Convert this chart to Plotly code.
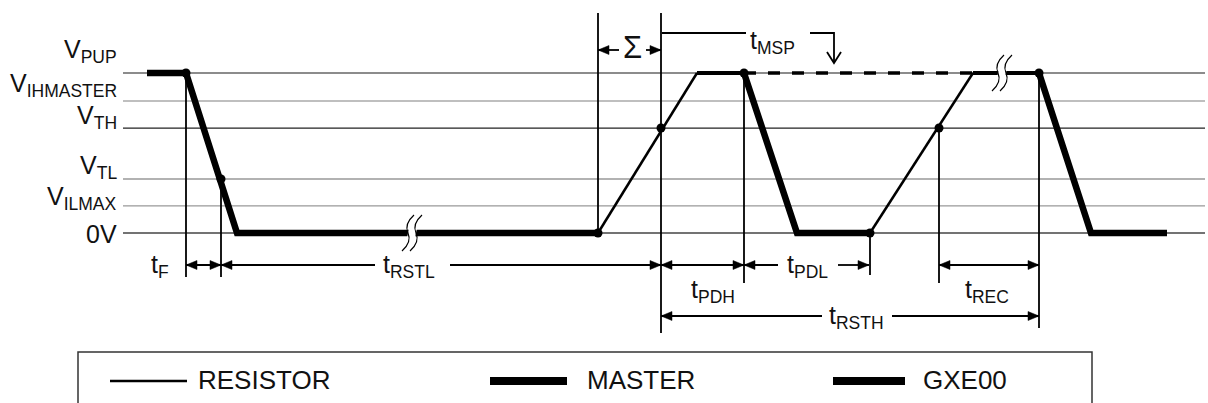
import plotly.graph_objects as go

# ---------------- data ----------------
# voltage levels (normalised: 0V = 0, VPUP = 1)
level_labels = ["V<sub>PUP</sub>", "V<sub>IHMASTER</sub>", "V<sub>TH</sub>",
                "V<sub>TL</sub>", "V<sub>ILMAX</sub>", "0V"]
level_values = [1.0, 0.825, 0.656, 0.3375, 0.169, 0.0]

# waveform segments (time units, level)
master1_t = [147, 186, 237, 598]
master1_v = [1, 1, 0, 0]
master2_t = [1039, 1091, 1167]
master2_v = [1, 0, 0]
gxe_t = [744, 797, 870]
gxe_v = [1, 0, 0]
res_rise1_t = [598, 697]
res_rise1_v = [0, 1]
res_rise2_t = [870, 973]
res_rise2_v = [0, 1]
high1_t = [697, 744]
high1_v = [1, 1]
high2_t = [973, 1039]
high2_v = [1, 1]
msp_t = [744, 973]
msp_v = [1, 1]

# event points (dots)
dot_t = [186, 221, 598, 661, 744, 870, 939, 1039]
dot_v = [1, 0.3375, 0, 0.656, 1, 0, 0.656, 1]

# timing labels
timing_labels = ["t<sub>F</sub>", "t<sub>RSTL</sub>", "t<sub>PDH</sub>", "t<sub>PDL</sub>",
                 "t<sub>REC</sub>", "t<sub>RSTH</sub>", "t<sub>MSP</sub>", "Σ"]
legend_names = ["RESISTOR", "MASTER", "GXE00"]

# ---------------- layout helpers ----------------
W, H = 1208, 403
ZERO_PX, SCALE = 233.0, 160.0


def yp(pix):
    """pixel row -> level units"""
    return (ZERO_PX - pix) / SCALE


FONT = "Liberation Sans, Arial, sans-serif"
fig = go.Figure()

# reference level lines
level_colors = ["#666", "#aaa", "#222", "#999", "#999", "#444"]
for v, c in zip(level_values, level_colors):
    fig.add_shape(type="line", x0=123, x1=1205, y0=v, y1=v,
                  line=dict(color=c, width=1.3), layer="below")

# level labels
label_off = [-22, -16, -11, -12, -8, 1]
for lab, v, off in zip(level_labels, level_values, label_off):
    fig.add_annotation(x=119, y=yp(ZERO_PX - v * SCALE + off), text=lab,
                       showarrow=False, xanchor="right", yanchor="middle",
                       font=dict(family=FONT, size=25, color="#111"))


def seg(t, v, width, dash=None):
    fig.add_trace(go.Scatter(x=t, y=v, mode="lines", showlegend=False,
                             line=dict(color="black", width=width, dash=dash),
                             hoverinfo="skip"))


seg(res_rise1_t, res_rise1_v, 2.5)
seg(res_rise2_t, res_rise2_v, 2.5)
seg(high1_t, high1_v, 4)
seg(high2_t, high2_v, 4)
seg(msp_t, msp_v, 3.5, dash="12px,12px")
seg(master1_t, master1_v, 6.5)
seg(gxe_t, gxe_v, 6.5)
seg(master2_t, master2_v, 6.5)

fig.add_trace(go.Scatter(x=dot_t, y=dot_v, mode="markers", showlegend=False,
                         marker=dict(color="black", size=9), hoverinfo="skip"))

# extension lines (time, from level, to pixel row)
ext = [(186, 1, 277), (221, 0.3375, 277), (598, yp(13), None), (661, yp(13), 333),
       (744, 1, 283), (870, 0, 275), (939, 0.656, 283), (1039, 1, 328)]
for t, y0, p1 in ext:
    y1 = 0 if p1 is None else yp(p1)
    fig.add_shape(type="line", x0=t, x1=t, y0=y0, y1=y1,
                  line=dict(color="black", width=1.8))


def head(xh, pix, s):
    # filled arrow head, tip at xh, pointing in direction s (+1 right, -1 left)
    fig.add_shape(type="path",
                  path=(f"M {xh},{yp(pix)} L {xh - s * 11},{yp(pix - 4.5)} "
                        f"L {xh - s * 11},{yp(pix + 4.5)} Z"),
                  fillcolor="black", line=dict(color="black", width=0.5))


def hline(x0, x1, pix):
    fig.add_shape(type="line", x0=x0, x1=x1, y0=yp(pix), y1=yp(pix),
                  line=dict(color="black", width=1.8))


def dim(x0, x1, pix, gap=None):
    if gap is None:
        hline(x0, x1, pix)
    else:
        hline(x0, gap[0], pix)
        hline(gap[1], x1, pix)
    head(x0, pix, -1)
    head(x1, pix, 1)


dim(186, 221, 265)
dim(221, 661, 265, (375, 450))
dim(598, 661, 50, (619, 646))
dim(661, 744, 265)
dim(744, 869, 265, (778, 838))
dim(939, 1039, 265)
dim(661, 1039, 316, (822, 892))

# tMSP hook
hline(662, 746, 33)
fig.add_shape(type="path",
              path=f"M 810,{yp(33)} L 834,{yp(33)} L 834,{yp(62)}",
              line=dict(color="black", width=1.8))
fig.add_shape(type="path",
              path=f"M 827,{yp(52)} L 834,{yp(63)} L 841,{yp(52)}",
              line=dict(color="black", width=1.8))

# timing labels
label_pos = [(160, 266), (409, 266), (713, 291), (807, 266),
             (987, 291), (856, 317), (772, 42), (632, 47)]
for lab, (x, p) in zip(timing_labels, label_pos):
    fig.add_annotation(x=x, y=yp(p), text=lab, showarrow=False,
                       xanchor="center", yanchor="middle",
                       font=dict(family=FONT, size=25 if lab != "Σ" else 31, color="#111"))


# break marks
def brk(cx, cpix):
    def P(dx, dy):
        return f"{cx + dx},{yp(cpix + dy)}"
    fig.add_shape(type="path",
                  path=f"M {P(1,-5)} L {P(9,-5)} L {P(7,5)} L {P(-1,5)} Z",
                  fillcolor="white", line=dict(width=0), layer="above")
    for o in (0, 8):
        fig.add_shape(type="path",
                      path=f"M {P(6+o,-18)} Q {P(-4+o,-9)} {P(0+o,0)} T {P(-6+o,18)}",
                      line=dict(color="black", width=1.2), layer="above")


brk(408, 233)
brk(998, 73)

# legend box
fig.add_shape(type="path",
              path=f"M 78,{yp(415)} L 78,{yp(352)} L 1092,{yp(352)} L 1092,{yp(415)}",
              line=dict(color="#333", width=1.5))
leg_lines = [(110, 187, 2.5), (490, 567, 8), (833, 905, 8)]
leg_text_x = [196, 585, 921]
for name, (a, b, w), tx in zip(legend_names, leg_lines, leg_text_x):
    fig.add_shape(type="line", x0=a, x1=b, y0=yp(381), y1=yp(381),
                  line=dict(color="black", width=w))
    fig.add_annotation(x=tx, y=yp(380), text=name, showarrow=False,
                       xanchor="left", yanchor="middle",
                       font=dict(family=FONT, size=26, color="#111"))

fig.update_layout(
    width=W, height=H, autosize=False,
    margin=dict(l=0, r=0, t=0, b=0),
    paper_bgcolor="white", plot_bgcolor="white",
    xaxis=dict(range=[0, W], visible=False, fixedrange=True),
    yaxis=dict(range=[yp(H), yp(0)], visible=False, fixedrange=True),
    showlegend=False,
)

fig.write_html("out.html", config={"displayModeBar": False},
               post_script="document.body.style.margin='0';")
